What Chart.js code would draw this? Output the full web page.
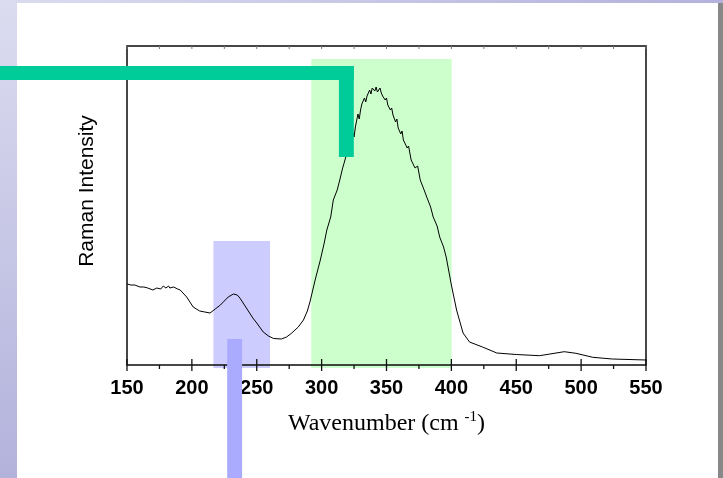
<!DOCTYPE html>
<html>
<head>
<meta charset="utf-8">
<script src="https://cdn.jsdelivr.net/npm/chart.js@4.4.0/dist/chart.umd.min.js"></script>
<style>
  body { margin: 0; }
  #slide { position: relative; width: 723px; height: 478px; background: #ffffff; overflow: hidden; }
  .edge-left { position: absolute; left: 0; top: 0; width: 17px; height: 478px; background: linear-gradient(#dcdcf0, #b2b2dc); }
  .edge-top { position: absolute; left: 0; top: 0; width: 723px; height: 3px; background: linear-gradient(to right, #dcdcf0, #b2b2dc); }
  .edge-right { position: absolute; left: 718px; top: 3px; width: 5px; height: 475px; background: #888888; }
  #chart { position: absolute; left: 0; top: 0; }
</style>
</head>
<body>
<div id="slide">
  <div class="edge-left"></div>
  <div class="edge-top"></div>
  <div class="edge-right"></div>
  <canvas id="chart" width="723" height="478"></canvas>
</div>
<script>
  // Raman spectrum (arbitrary intensity units)
  var wavenumbers = [150, 153, 156, 160, 163, 166, 170, 173, 176, 178, 180, 182, 183, 186, 189, 191, 196, 201, 206, 210,
    214, 218, 222, 228, 232, 235, 237, 240, 244, 247, 250, 255, 259, 263, 269, 273, 277, 282, 286, 289,
    291, 295, 299, 302, 304, 307, 309, 312, 314, 316, 318, 320, 321, 322, 324, 325, 326, 328, 329, 330,
    331, 333, 334, 335, 337, 338, 339, 341, 342, 343, 345, 346, 347, 349, 350, 351, 353, 354, 355, 357,
    358, 359, 361, 362, 363, 366, 367, 369, 372, 374, 376, 379, 381, 384, 386, 389, 391, 394, 396, 400,
    404, 409, 414, 424, 435, 450, 468, 476, 487, 496, 509, 524, 550];
  var intensity = [81, 80, 80, 78, 78, 77, 75, 77, 76, 79, 77, 79, 77, 78, 76, 75, 68, 58, 54, 53,
    52, 56, 60, 68, 71, 70, 67, 61, 53, 47, 42, 33, 29, 26.5, 26, 28, 32, 38, 45, 54,
    63, 85, 105, 122, 135, 148, 165, 175, 185, 196, 205, 215, 212, 225, 232, 228, 238, 251, 246, 255,
    261, 267, 263, 269, 275, 271, 277, 274, 278, 273, 277, 272, 269, 265, 267, 260, 255, 257, 250, 243,
    246, 237, 231, 234, 225, 217, 219, 205, 197, 199, 185, 175, 168, 158, 148, 139, 128, 118, 108, 80,
    55, 32, 23, 18, 12, 10.5, 9.3, 11, 13.3, 11.7, 7.7, 6, 5];

  var xTicks = [150, 200, 250, 300, 350, 400, 450, 500, 550];
  var xMinorTicks = [175, 225, 275, 325, 375, 425, 475, 525];

  // shaded bands: [from, to, bottom, top] in data units
  var lowBand = [216.6, 260.2, -3, 124];
  var highBand = [292, 400.2, -3, 306];
  // pointer bars: low one runs from its top down off the page
  var lowPointer = [227.2, 238.7, 26];
  var highPointerX = [313.3, 324.8];
  var highPointerY = [299, 285, 208];

  var points = [];
  for (var i = 0; i < wavenumbers.length; i++) {
    points.push({ x: wavenumbers[i], y: intensity[i] });
  }

  function band(ctx, xs, ys, b) {
    var x0 = xs.getPixelForValue(b[0]);
    var x1 = xs.getPixelForValue(b[1]);
    var y0 = ys.getPixelForValue(b[3]);
    var y1 = ys.getPixelForValue(b[2]);
    ctx.fillRect(x0, y0, x1 - x0, y1 - y0);
  }

  var decorPlugin = {
    id: 'decor',
    beforeDatasetsDraw: function (chart) {
      var ctx = chart.ctx;
      var xs = chart.scales.x;
      var ys = chart.scales.y;
      ctx.save();
      ctx.fillStyle = '#ccffcc';
      band(ctx, xs, ys, highBand);
      ctx.fillStyle = '#ccccff';
      band(ctx, xs, ys, lowBand);
      ctx.restore();
    },
    afterDatasetsDraw: function (chart) {
      var ctx = chart.ctx;
      var xs = chart.scales.x;
      var ys = chart.scales.y;
      var a = chart.chartArea;
      var i, px;
      ctx.save();
      // frame
      ctx.strokeStyle = '#1a1a1a';
      ctx.lineWidth = 1.6;
      ctx.strokeRect(a.left, a.top, a.right - a.left, a.bottom - a.top);
      // bottom ticks
      ctx.lineWidth = 1.3;
      ctx.strokeStyle = '#111111';
      ctx.beginPath();
      for (i = 0; i < xTicks.length; i++) {
        px = xs.getPixelForValue(xTicks[i]);
        ctx.moveTo(px, a.bottom - 6);
        ctx.lineTo(px, a.bottom + 6);
      }
      for (i = 0; i < xMinorTicks.length; i++) {
        px = xs.getPixelForValue(xMinorTicks[i]);
        ctx.moveTo(px, a.bottom);
        ctx.lineTo(px, a.bottom + 4);
      }
      ctx.stroke();
      // faint top ticks
      ctx.strokeStyle = '#777777';
      ctx.lineWidth = 1;
      ctx.beginPath();
      var all = xTicks.concat(xMinorTicks);
      for (i = 0; i < all.length; i++) {
        px = xs.getPixelForValue(all[i]);
        ctx.moveTo(px, a.top);
        ctx.lineTo(px, a.top + 3);
      }
      ctx.stroke();

      // y title
      ctx.fillStyle = '#000000';
      ctx.font = '21px "Liberation Sans", Arial, sans-serif';
      ctx.textAlign = 'center';
      ctx.textBaseline = 'alphabetic';
      ctx.save();
      ctx.translate(a.left - 34, a.top + 145);
      ctx.rotate(-Math.PI / 2);
      ctx.fillText('Raman Intensity', 0, 0);
      ctx.restore();

      // x title with superscript
      var mainFont = '24px "Liberation Serif", "Times New Roman", serif';
      var supFont = '15px "Liberation Serif", "Times New Roman", serif';
      var t1 = 'Wavenumber (cm ';
      var t2 = '-1';
      var t3 = ')';
      ctx.font = mainFont;
      var w1 = ctx.measureText(t1).width;
      var w3 = ctx.measureText(t3).width;
      ctx.font = supFont;
      var w2 = ctx.measureText(t2).width;
      var total = w1 + w2 + w3;
      var sx = (a.left + a.right) / 2 - total / 2;
      var base = a.bottom + 65;
      ctx.textAlign = 'left';
      ctx.font = mainFont;
      ctx.fillText(t1, sx, base);
      ctx.font = supFont;
      ctx.fillText(t2, sx + w1, base - 9);
      ctx.font = mainFont;
      ctx.fillText(t3, sx + w1 + w2, base);

      // teal L-shaped pointer
      ctx.fillStyle = '#00cc99';
      var hx0 = xs.getPixelForValue(highPointerX[0]);
      var hx1 = xs.getPixelForValue(highPointerX[1]);
      var hy0 = ys.getPixelForValue(highPointerY[0]);
      var hy1 = ys.getPixelForValue(highPointerY[1]);
      var hy2 = ys.getPixelForValue(highPointerY[2]);
      ctx.fillRect(0, hy0, hx1, hy1 - hy0);
      ctx.fillRect(hx0, hy0, hx1 - hx0, hy2 - hy0);

      // blue pointer
      ctx.fillStyle = '#aaaaff';
      var lx0 = xs.getPixelForValue(lowPointer[0]);
      var lx1 = xs.getPixelForValue(lowPointer[1]);
      var ly0 = ys.getPixelForValue(lowPointer[2]);
      ctx.fillRect(lx0, ly0, lx1 - lx0, chart.height - ly0);
      ctx.restore();
    }
  };

  var chart = new Chart(document.getElementById('chart').getContext('2d'), {
    type: 'scatter',
    data: {
      datasets: [{
        data: points,
        showLine: true,
        borderColor: '#000000',
        borderWidth: 1,
        pointRadius: 0,
        tension: 0
      }]
    },
    options: {
      responsive: false,
      animation: false,
      devicePixelRatio: 1,
      layout: {
        padding: { left: 127, top: 46, right: 77, bottom: 67 }
      },
      plugins: {
        legend: { display: false },
        tooltip: { enabled: false }
      },
      scales: {
        x: {
          type: 'linear',
          min: 150,
          max: 550,
          border: { display: false },
          grid: { display: false, drawTicks: false },
          afterBuildTicks: function (scale) {
            scale.ticks = xTicks.map(function (v) { return { value: v }; });
          },
          ticks: {
            padding: 11,
            color: '#000000',
            font: { family: '"Liberation Sans", Arial, sans-serif', size: 20, weight: 'bold' }
          }
        },
        y: {
          display: false,
          min: 0,
          max: 319
        }
      }
    },
    plugins: [decorPlugin]
  });
</script>
</body>
</html>
